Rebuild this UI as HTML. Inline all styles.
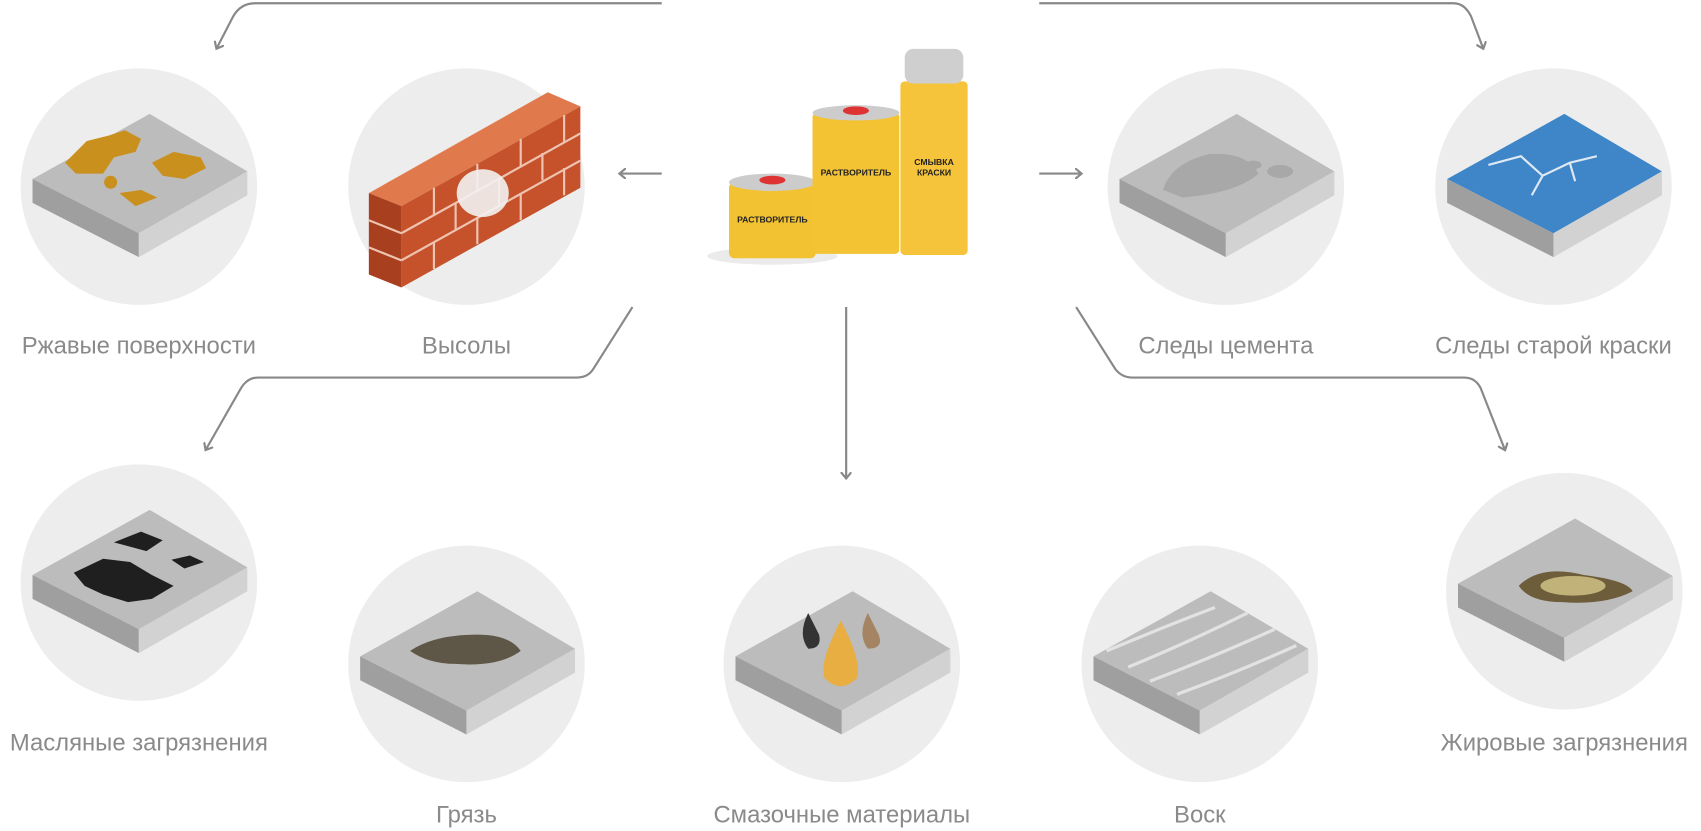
<!DOCTYPE html>
<html><head><meta charset="utf-8"><style>
html,body{margin:0;padding:0;background:#fff;}
svg{display:block}
text.lb{font-family:"Liberation Sans",sans-serif;font-size:22px;fill:#8a8a8a;text-anchor:middle}
text.cn{font-family:"Liberation Sans",sans-serif;font-size:8px;fill:#222;font-weight:bold;text-anchor:middle}
</style></head><body>
<svg width="1701" height="831" viewBox="0 0 1568 766" xmlns="http://www.w3.org/2000/svg">
<defs>
<marker id="ah" markerWidth="10" markerHeight="10" refX="5" refY="5" orient="auto" markerUnits="userSpaceOnUse">
<path d="M0,0 L6,5 L0,10" fill="none" stroke="#888" stroke-width="2"/>
</marker>
<g id="slab">
<polygon points="-98,-7 10,-67 100,-14 0,43" fill="#bcbcbc"/>
<polygon points="-98,-7 0,43 0,65 -98,15" fill="#9f9f9f"/>
<polygon points="0,43 100,-14 100,8 0,65" fill="#d2d2d2"/>
</g>
</defs>
<g fill="#ededed">
<circle cx="128" cy="172" r="109"/><circle cx="430" cy="172" r="109"/>
<circle cx="1130" cy="172" r="109"/><circle cx="1432" cy="172" r="109"/>
<circle cx="128" cy="537" r="109"/><circle cx="430" cy="612" r="109"/>
<circle cx="776" cy="612" r="109"/><circle cx="1106" cy="612" r="109"/>
<circle cx="1442" cy="545" r="109"/>
</g>
<g fill="none" stroke="#888" stroke-width="2">
<path d="M610,3 H235 Q222,3 215,15 L200,44" marker-end="url(#ah)"/>
<path d="M958,3 H1340 Q1350,3 1356,15 L1367,44" marker-end="url(#ah)"/>
<path d="M610,160 H572" marker-end="url(#ah)"/>
<path d="M958,160 H996" marker-end="url(#ah)"/>
<path d="M583,283 L547,340 Q542,348 532,348 H238 Q228,348 222,358 L190,414" marker-end="url(#ah)"/>
<path d="M780,283 V440" marker-end="url(#ah)"/>
<path d="M992,283 L1028,340 Q1034,348 1044,348 H1350 Q1360,348 1365,358 L1387,414" marker-end="url(#ah)"/>
</g>
<use href="#slab" x="128" y="172"/>
<use href="#slab" x="1130" y="172"/>
<use href="#slab" x="128" y="537"/>
<use href="#slab" x="430" y="612"/>
<use href="#slab" x="776" y="612"/>
<use href="#slab" x="1106" y="612"/>
<use href="#slab" x="1442" y="545"/>
<g transform="translate(1432,172)">
<polygon points="-98,-7 10,-67 100,-14 0,43" fill="#3e86c8"/>
<polygon points="-98,-7 0,43 0,65 -98,15" fill="#9f9f9f"/>
<polygon points="0,43 100,-14 100,8 0,65" fill="#d2d2d2"/>
<path d="M-60,-20 L-30,-28 L-10,-10 L15,-22 L40,-28 M-10,-10 L-20,8 M15,-22 L20,-5" stroke="#dfe9f3" stroke-width="2" fill="none"/>
</g>
<g fill="#c9901e">
<path d="M60,150 L80,130 L100,125 L115,120 L130,128 L125,140 L105,145 L95,160 L70,160Z"/>
<path d="M140,150 L160,140 L185,145 L190,155 L170,165 L150,162Z"/>
<path d="M110,178 L130,175 L145,182 L125,190Z"/>
<circle cx="102" cy="168" r="6"/>
</g>
<!-- brick wall -->
<polygon points="340,178 505,85 535,98 370,190" fill="#e07a4c"/>
<polygon points="340,178 370,190 370,265 340,253" fill="#a8401f"/>
<polygon points="370,190 535,98 535,173 370,265" fill="#c6522c"/>
<g stroke="#eec3b1" stroke-width="2" fill="none">
<line x1="370" y1="215" x2="535" y2="123"/><line x1="370" y1="240" x2="535" y2="148"/>
<line x1="340" y1="203" x2="370" y2="215"/><line x1="340" y1="228" x2="370" y2="240"/>
<path d="M400,173 v25 M440,151 v25 M480,128 v25 M520,106 v25 M420,187 v25 M460,164 v25 M500,141 v25 M400,223 v25 M440,200 v25 M480,178 v25 M520,155 v25"/>
</g>
<ellipse cx="445" cy="178" rx="24" ry="22" fill="#f2f2f2" opacity="0.9"/>
<!-- cans -->
<ellipse cx="712" cy="236" rx="60" ry="8" fill="#ddd" opacity="0.6"/>
<rect x="672" y="168" width="80" height="70" rx="5" fill="#f2c232"/>
<ellipse cx="712" cy="168" rx="40" ry="8" fill="#ccc"/>
<ellipse cx="712" cy="166" rx="12" ry="4" fill="#d33"/>
<rect x="749" y="104" width="80" height="130" rx="4" fill="#f3c334"/>
<ellipse cx="789" cy="104" rx="40" ry="7" fill="#ccc"/>
<ellipse cx="789" cy="102" rx="12" ry="4" fill="#d33"/>
<rect x="830" y="75" width="62" height="160" rx="4" fill="#f5c43a"/>
<rect x="834" y="45" width="54" height="32" rx="8" fill="#cfcfcf"/>
<text class="cn" x="712" y="205">РАСТВОРИТЕЛЬ</text>
<text class="cn" x="789" y="162">РАСТВОРИТЕЛЬ</text>
<text class="cn" x="861" y="152">СМЫВКА</text>
<text class="cn" x="861" y="162">КРАСКИ</text>
<path d="M1072,175 Q1080,150 1115,142 Q1150,140 1160,160 Q1140,178 1090,182Z" fill="#a8a8a8"/>
<ellipse cx="1180" cy="158" rx="12" ry="6" fill="#a8a8a8"/><ellipse cx="1155" cy="152" rx="8" ry="4" fill="#a8a8a8"/>
<path d="M68,528 L95,515 L120,518 L140,530 L160,540 L140,552 L118,555 L95,548 L78,540Z" fill="#1f1f1f"/>
<path d="M105,500 L130,490 L150,498 L135,508Z" fill="#1f1f1f"/>
<path d="M158,516 L175,512 L188,518 L170,524Z" fill="#1f1f1f"/>
<path d="M378,600 Q400,585 440,585 Q470,585 480,600 Q460,615 420,612 Q395,612 378,600Z" fill="#5e5646"/>
<path d="M745,565 Q735,585 745,598 Q758,598 755,585Z" fill="#333"/>
<path d="M800,565 Q790,585 800,598 Q815,598 810,585Z" fill="#a58463"/>
<path d="M775,572 Q755,610 760,625 Q775,640 790,625 Q795,610 775,572Z" fill="#e9ae42"/>
<g stroke="#e2e2e2" stroke-width="3" fill="none"><path d="M1020,600 Q1080,575 1120,560"/><path d="M1040,615 Q1100,590 1150,565"/><path d="M1060,628 Q1120,605 1175,580"/><path d="M1085,640 Q1140,620 1195,595"/></g>
<path d="M1400,540 Q1420,520 1460,530 Q1500,535 1505,545 Q1480,558 1440,555 Q1410,555 1400,540Z" fill="#6e5d3a"/>
<ellipse cx="1450" cy="540" rx="30" ry="9" fill="#c0b278"/>
<text class="lb" x="128" y="326">Ржавые поверхности</text>
<text class="lb" x="430" y="326">Высолы</text>
<text class="lb" x="1130" y="326">Следы цемента</text>
<text class="lb" x="1432" y="326">Следы старой краски</text>
<text class="lb" x="128" y="692">Масляные загрязнения</text>
<text class="lb" x="1442" y="692">Жировые загрязнения</text>
<text class="lb" x="430" y="758">Грязь</text>
<text class="lb" x="776" y="758">Смазочные материалы</text>
<text class="lb" x="1106" y="758">Воск</text>
</svg>
</body></html>
